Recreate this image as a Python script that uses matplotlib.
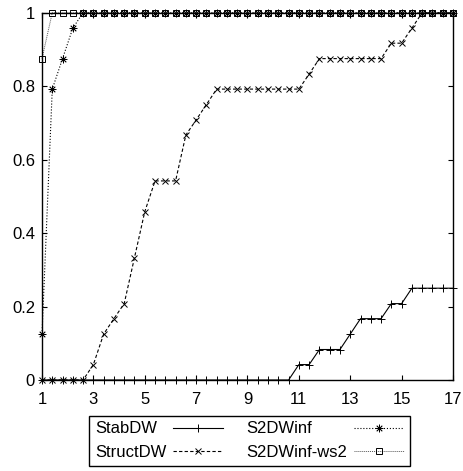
import matplotlib

matplotlib.use("Agg")
import matplotlib.pyplot as plt

plt.rcParams["font.family"] = ["Liberation Sans", "DejaVu Sans"]

# performance ratio grid (x) and fraction of problems solved per solver
ratio = [1.0, 1.4, 1.8, 2.2, 2.6, 3.0, 3.4, 3.8, 4.2, 4.6, 5.0, 5.4, 5.8, 6.2,
         6.6, 7.0, 7.4, 7.8, 8.2, 8.6, 9.0, 9.4, 9.8, 10.2, 10.6, 11.0, 11.4,
         11.8, 12.2, 12.6, 13.0, 13.4, 13.8, 14.2, 14.6, 15.0, 15.4, 15.8,
         16.2, 16.6, 17.0]

stab_dw = [0] * 25 + [0.042, 0.042, 0.083, 0.083, 0.083, 0.125, 0.167, 0.167,
                      0.167, 0.208, 0.208, 0.25, 0.25, 0.25, 0.25, 0.25]

struct_dw = [0, 0, 0, 0, 0, 0.042, 0.125, 0.167, 0.208, 0.333, 0.458,
             0.542, 0.542, 0.542, 0.667, 0.708, 0.75,
             0.792, 0.792, 0.792, 0.792, 0.792, 0.792, 0.792, 0.792, 0.792,
             0.833, 0.875, 0.875, 0.875, 0.875, 0.875, 0.875, 0.875,
             0.917, 0.917, 0.958, 1.0, 1.0, 1.0, 1.0]

s2dw_inf = [0.125, 0.792, 0.875, 0.958] + [1.0] * 37

s2dw_inf_ws2 = [0.875] + [1.0] * 40

xticks = [1, 3, 5, 7, 9, 11, 13, 15, 17]
yticks = [0, 0.2, 0.4, 0.6, 0.8, 1]
ytick_labels = ["0", "0.2", "0.4", "0.6", "0.8", "1"]

fig = plt.figure(figsize=(4.64, 4.71), dpi=100)
ax = fig.add_axes([42 / 464, 1 - 380 / 471, 411 / 464, 367.3 / 471])

lw = 0.8
ax.plot(ratio, stab_dw, "-", color="black", lw=lw, marker="+", ms=6,
        mew=0.7, label="StabDW", clip_on=False)
ax.plot(ratio, struct_dw, "--", color="black", lw=lw, marker="x", ms=4.5,
        mew=0.7, dashes=(3, 2), label="StructDW", clip_on=False)
ax.plot(ratio, s2dw_inf, ":", color="black", lw=lw, marker=(8, 2, 0), ms=5.5,
        mew=0.55, label="S2DWinf", clip_on=False)
ax.plot(ratio, s2dw_inf_ws2, ":", color="#555555", lw=0.7, marker="s", ms=4.5,
        mew=0.7, mec="black", mfc="none", dashes=(1, 1), label="S2DWinf-ws2",
        clip_on=False)

ax.set_xlim(1, 17)
ax.set_ylim(0, 1)
ax.set_xticks(xticks)
ax.set_xticklabels([str(t) for t in xticks])
ax.set_yticks(yticks)
ax.set_yticklabels(ytick_labels)
ax.tick_params(axis="both", direction="in", length=3.6, width=0.8,
               labelsize=12, top=True, right=True)
ax.tick_params(axis="x", pad=9)
ax.tick_params(axis="y", pad=5)
for s in ax.spines.values():
    s.set_linewidth(1.0)

handles, labels = ax.get_legend_handles_labels()
leg = fig.legend(handles, labels, ncol=2, loc="center",
                 bbox_to_anchor=(249.5 / 464, 30.5 / 471), fontsize=12,
                 markerfirst=False, handlelength=3.0, handletextpad=0.4,
                 columnspacing=1.4, borderpad=0.35, labelspacing=0.5,
                 fancybox=False, framealpha=1, edgecolor="black")
leg.get_frame().set_linewidth(1.0)

# gnuplot-style key: labels left-justified, samples lined up after them
fig.canvas.draw()
renderer = fig.canvas.get_renderer()
for col in leg._legend_handle_box.get_children():
    col.align = "left"
    rows = col.get_children()
    widths = [row.get_children()[0].get_bbox(renderer).width for row in rows]
    for row, w in zip(rows, widths):
        row.sep = row.sep + (max(widths) - w) * 72 / fig.dpi

fig.savefig("out.png", dpi=100)
